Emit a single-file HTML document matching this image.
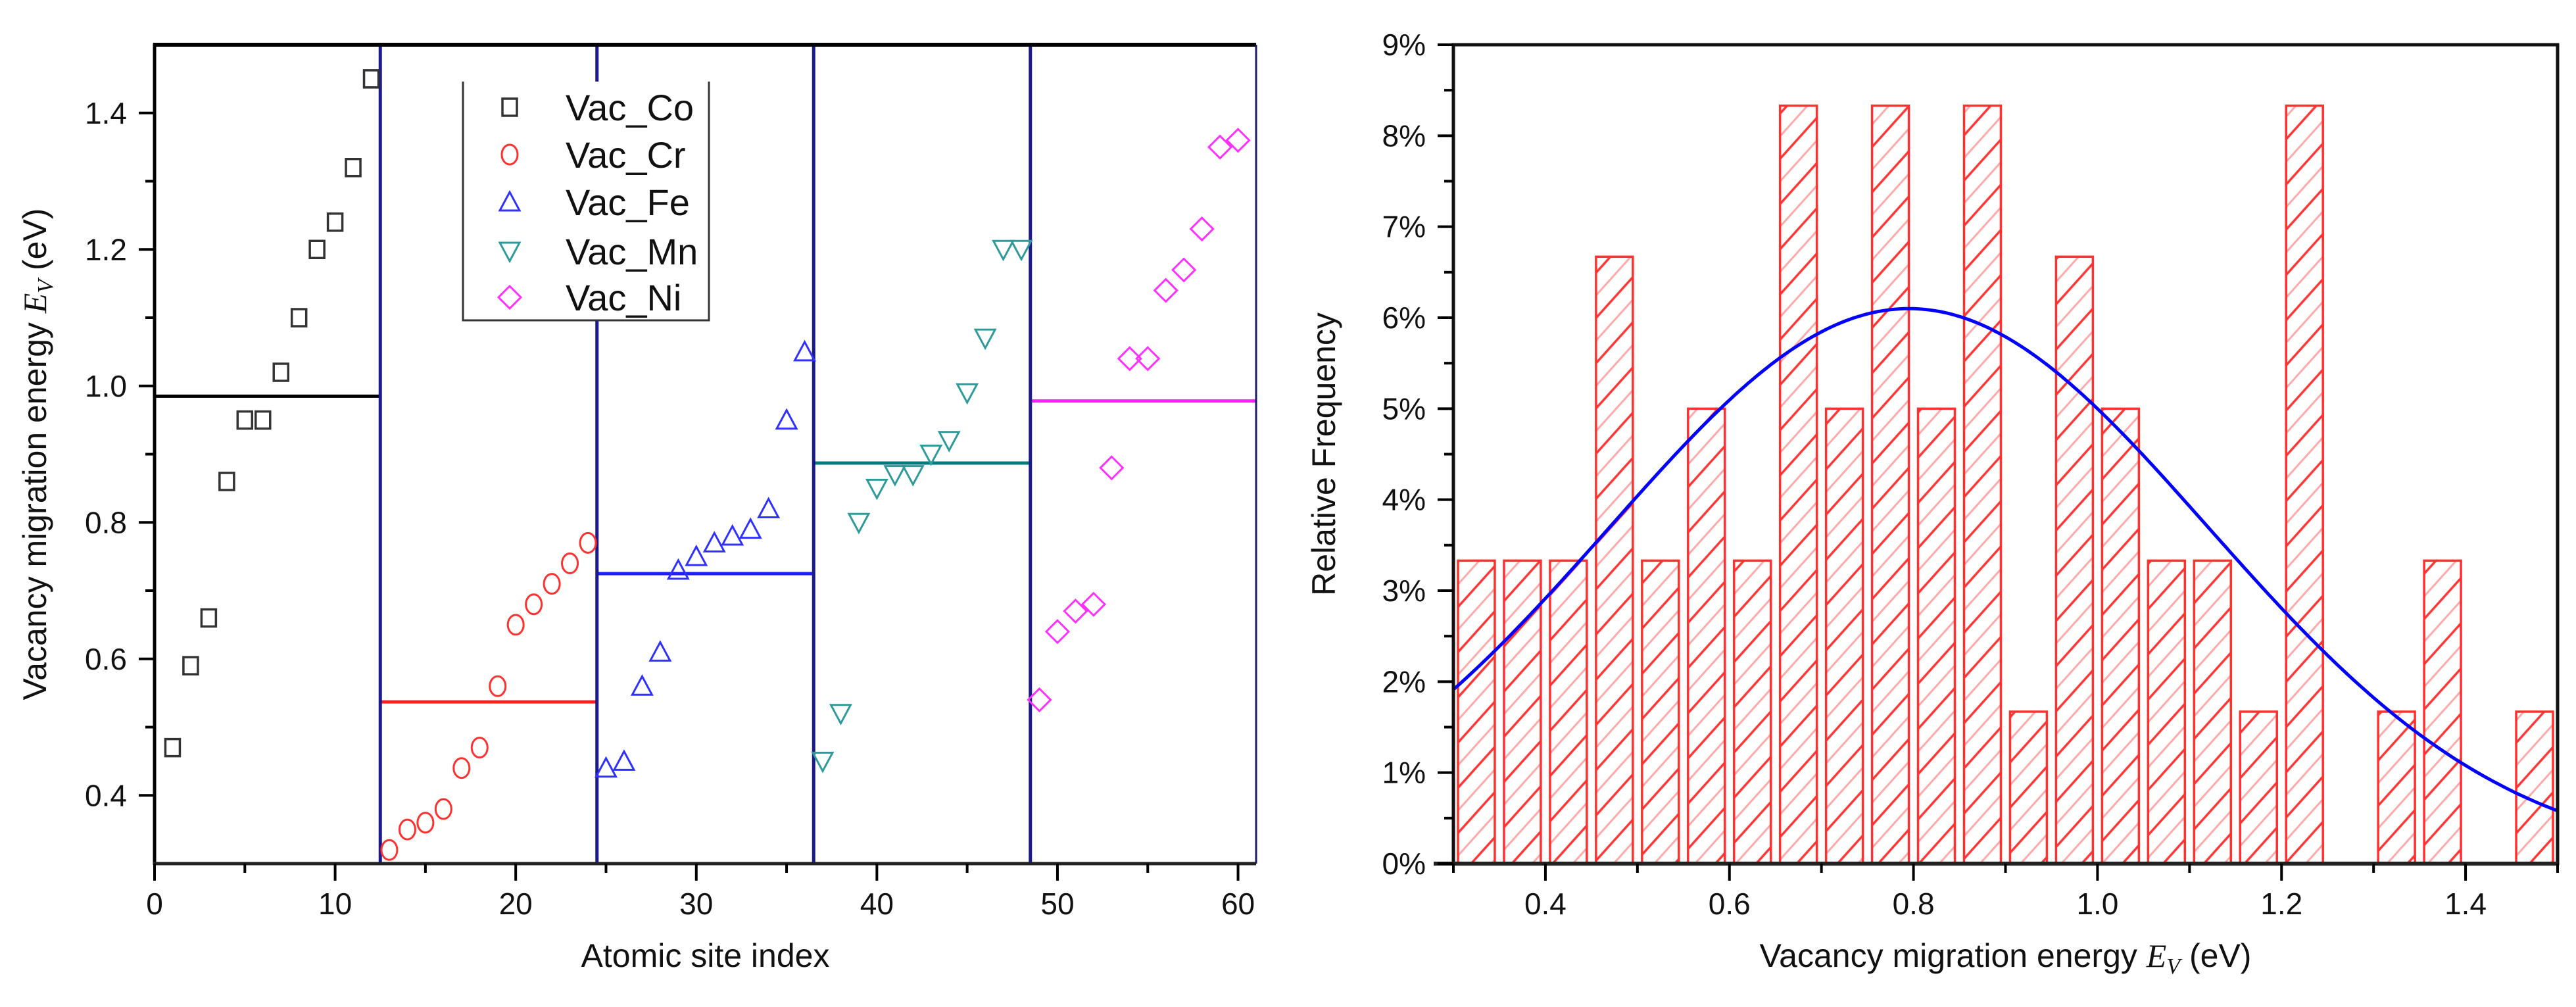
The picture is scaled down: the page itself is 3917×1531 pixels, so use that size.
<!DOCTYPE html>
<html><head><meta charset="utf-8"><style>
html,body{margin:0;padding:0;background:#fff;}
svg{display:block;font-family:"Liberation Sans",Arial,sans-serif;}
</style></head><body>
<svg id="fig" width="3917" height="1531" viewBox="0 0 3917 1531" xmlns="http://www.w3.org/2000/svg">
<defs>
<pattern id="hatch" patternUnits="userSpaceOnUse" width="20" height="46" patternTransform="rotate(-48)">
<line x1="0" y1="11" x2="20" y2="11" stroke="#ff3535" stroke-width="3.5"/>
<line x1="0" y1="34" x2="20" y2="34" stroke="#ffaaaa" stroke-width="3"/>
</pattern>
</defs>
<g id="left"></g>
<g id="right"></g>
</svg>
<script>
// ---------- Left chart data ----------
const coVals = [0.47,0.59,0.66,0.86,0.95,0.95,1.02,1.10,1.20,1.24,1.32,1.45];
const crVals = [0.32,0.35,0.36,0.38,0.44,0.47,0.56,0.65,0.68,0.71,0.74,0.77];
const feVals = [0.44,0.45,0.56,0.61,0.73,0.75,0.77,0.78,0.79,0.82,0.95,1.05];
const mnVals = [0.45,0.52,0.80,0.85,0.87,0.87,0.90,0.92,0.99,1.07,1.20,1.20];
const niVals = [0.54,0.64,0.67,0.68,0.88,1.04,1.04,1.14,1.17,1.23,1.35,1.36];
const seriesNames = ["Vac_Co","Vac_Cr","Vac_Fe","Vac_Mn","Vac_Ni"];
const seriesStart = [1,13,25,37,49];
const meanVals = [0.985,0.537,0.725,0.887,0.978];
const groupBounds = [0,12.5,24.5,36.5,48.5,61];
const leftXTicks = [0,10,20,30,40,50,60];
const leftYTicks = [0.4,0.6,0.8,1.0,1.2,1.4];
const leftYLabels = ["0.4","0.6","0.8","1.0","1.2","1.4"];
// ---------- Right chart data ----------
const binCenters = [0.325,0.375,0.425,0.475,0.525,0.575,0.625,0.675,0.725,0.775,0.825,0.875,0.925,0.975,1.025,1.075,1.125,1.175,1.225,1.275,1.325,1.375,1.425,1.475];
const binFreq = [3.33,3.33,3.33,6.67,3.33,5,3.33,8.33,5,8.33,5,8.33,1.67,6.67,5,3.33,3.33,1.67,8.33,0,1.67,3.33,0,1.67];
const fitParams = [6.1,0.795,0.325]; // amplitude(%), mean, sigma
const rightXTicks = [0.4,0.6,0.8,1.0,1.2,1.4];
const rightXLabels = ["0.4","0.6","0.8","1.0","1.2","1.4"];
const rightYTicks = [0,1,2,3,4,5,6,7,8,9];

const NS="http://www.w3.org/2000/svg";
function mk(parent,tag,attrs,text){const e=document.createElementNS(NS,tag);for(const k in attrs)e.setAttribute(k,attrs[k]);if(text!==undefined)e.textContent=text;parent.appendChild(e);return e;}

// ---------- Left chart ----------
const L=document.getElementById('left');
const LX0=235,LX1=1910,LY0=1313,LY1=68;
const lx=v=>LX0+(v-0)/(61-0)*(LX1-LX0);
const ly=v=>LY0-(v-0.3)/(1.5-0.3)*(LY0-LY1);
const colors=["#333333","#ff3030","#3030ff","#2f9a9a","#ff30ff"];
const meanColors=["#000000","#ff2020","#2020ff","#007a7a","#ff20ff"];

function marker(g,kind,cx,cy,col){
  let e;
  const s=13;
  if(kind===0){e=mk(g,'rect',{x:cx-s+2,y:cy-s,width:2*s-4,height:2*s,fill:'none',stroke:col,'stroke-width':3.5});}
  else if(kind===1){e=mk(g,'ellipse',{cx:cx,cy:cy,rx:s-1,ry:s+2,fill:'none',stroke:col,'stroke-width':3});}
  else if(kind===2){e=mk(g,'polygon',{points:`${cx},${cy-s-2} ${cx+s+2},${cy+s} ${cx-s-2},${cy+s}`,fill:'none',stroke:col,'stroke-width':3});}
  else if(kind===3){e=mk(g,'polygon',{points:`${cx-s-2},${cy-s} ${cx+s+2},${cy-s} ${cx},${cy+s+2}`,fill:'none',stroke:col,'stroke-width':3});}
  else {e=mk(g,'polygon',{points:`${cx},${cy-s-4} ${cx+s+4},${cy} ${cx},${cy+s+4} ${cx-s-4},${cy}`,fill:'none',stroke:col,'stroke-width':3});}
  return e;
}

meanVals.forEach((m,i)=>{
  const e=mk(L,'line',{x1:lx(groupBounds[i]),x2:lx(groupBounds[i+1]),y1:ly(m),y2:ly(m),stroke:meanColors[i],'stroke-width':5});
  
  
});
groupBounds.slice(1,5).forEach((b,i)=>{
  const e=mk(L,'line',{x1:lx(b),x2:lx(b),y1:LY1,y2:LY0,stroke:'#1a1a8a','stroke-width':5});
  
  
});
[coVals,crVals,feVals,mnVals,niVals].forEach((arr,si)=>{
  const g=mk(L,'g',{});
  
  
  arr.forEach((v,j)=>{
    const e=marker(g,si,lx(seriesStart[si]+j),ly(v),colors[si]);
    
    
  });
});
let ax=mk(L,'line',{x1:LX0,x2:LX0,y1:LY1-2,y2:LY0+2,stroke:'#000','stroke-width':5});

ax=mk(L,'line',{x1:LX0-2,x2:LX1,y1:LY0,y2:LY0,stroke:'#222','stroke-width':5});

ax=mk(L,'line',{x1:LX0-2,x2:LX1,y1:LY1,y2:LY1,stroke:'#000','stroke-width':6});

ax=mk(L,'line',{x1:LX1,x2:LX1,y1:LY1,y2:LY0,stroke:'#1a1a6a','stroke-width':3});

leftXTicks.forEach(t=>{
  mk(L,'line',{x1:lx(t),x2:lx(t),y1:LY0,y2:LY0+26,stroke:'#000','stroke-width':4});
  const e=mk(L,'text',{x:lx(t),y:LY0+77,'font-size':46,'text-anchor':'middle',fill:'#111'},String(t));
  
  if(t+5<61) mk(L,'line',{x1:lx(t+5),x2:lx(t+5),y1:LY0,y2:LY0+14,stroke:'#000','stroke-width':4});
});
leftYTicks.forEach((t,i)=>{
  mk(L,'line',{x1:LX0-24,x2:LX0,y1:ly(t),y2:ly(t),stroke:'#000','stroke-width':4});
  const e=mk(L,'text',{x:193,y:ly(t)+16,'font-size':46,'text-anchor':'end',fill:'#111'},leftYLabels[i]);
  
  if(t+0.1<1.5) mk(L,'line',{x1:LX0-14,x2:LX0,y1:ly(t+0.1),y2:ly(t+0.1),stroke:'#000','stroke-width':4});
});
let tt=mk(L,'text',{x:(LX0+LX1)/2,y:1470,'font-size':50,'text-anchor':'middle',fill:'#111'},'Atomic site index');

tt=mk(L,'text',{x:0,y:0,'font-size':50,'text-anchor':'middle',fill:'#111',transform:`translate(70,${(LY0+LY1)/2}) rotate(-90)`});
tt.innerHTML='Vacancy migration energy <tspan font-family="Liberation Serif" font-style="italic">E</tspan><tspan font-family="Liberation Serif" font-style="italic" font-size="34" dy="10">V</tspan><tspan dy="-10"> (eV)</tspan>';

const lg=mk(L,'g',{});

mk(lg,'rect',{x:704,y:124,width:374,height:363,fill:'#fff',stroke:'none'});
mk(lg,'polyline',{points:'704,124 704,487 1078,487 1078,124',fill:'none',stroke:'#333','stroke-width':3});
const legY=[163,235,307,382,452];
seriesNames.forEach((n,i)=>{
  const eg=mk(lg,'g',{});
  
  marker(eg,i,775,legY[i],colors[i]);
  mk(eg,'text',{x:860,y:legY[i]+20,'font-size':56,fill:'#111'},n);
});

// ---------- Right chart ----------
const R=document.getElementById('right');
const RX0=2210,RX1=3889,RY0=1313,RY1=68;
const rx=v=>RX0+(v-0.3)/(1.5-0.3)*(RX1-RX0);
const ry=v=>RY0-(v-0)/(9-0)*(RY0-RY1);
const barW=0.04;
binCenters.forEach((c,i)=>{
  if(binFreq[i]<=0) return;
  const e=mk(R,'rect',{x:rx(c-barW/2),y:ry(binFreq[i]),width:rx(c+barW/2)-rx(c-barW/2),height:RY0-ry(binFreq[i]),fill:'url(#hatch)',stroke:'#ff3030','stroke-width':3.5});
  
});
let pts=[];
for(let x=0.3;x<=1.5001;x+=0.005){
  const y=fitParams[0]*Math.exp(-Math.pow(x-fitParams[1],2)/(2*fitParams[2]*fitParams[2]));
  pts.push(rx(x).toFixed(1)+','+ry(y).toFixed(1));
}
const fc=mk(R,'polyline',{points:pts.join(' '),fill:'none',stroke:'#0000ff','stroke-width':5});

ax=mk(R,'rect',{x:RX0,y:RY1,width:RX1-RX0,height:RY0-RY1,fill:'none',stroke:'#111','stroke-width':5});

ax=mk(R,'line',{x1:RX0-30,x2:RX1,y1:RY0,y2:RY0,stroke:'#222','stroke-width':6});

rightXTicks.forEach((t,i)=>{
  mk(R,'line',{x1:rx(t),x2:rx(t),y1:RY0,y2:RY0+26,stroke:'#000','stroke-width':4});
  mk(R,'line',{x1:rx(t+0.1),x2:rx(t+0.1),y1:RY0,y2:RY0+14,stroke:'#000','stroke-width':4});
  const e=mk(R,'text',{x:rx(t),y:RY0+77,'font-size':46,'text-anchor':'middle',fill:'#111'},rightXLabels[i]);
  
});
mk(R,'line',{x1:rx(0.3),x2:rx(0.3),y1:RY0,y2:RY0+14,stroke:'#000','stroke-width':4});
rightYTicks.forEach(t=>{
  mk(R,'line',{x1:RX0-24,x2:RX0,y1:ry(t),y2:ry(t),stroke:'#000','stroke-width':4});
  if(t<9) mk(R,'line',{x1:RX0-14,x2:RX0,y1:ry(t+0.5),y2:ry(t+0.5),stroke:'#000','stroke-width':4});
  const e=mk(R,'text',{x:2168,y:ry(t)+16,'font-size':46,'text-anchor':'end',fill:'#111'},t+'%');
  
});
tt=mk(R,'text',{x:(RX0+RX1)/2,y:1470,'font-size':50,'text-anchor':'middle',fill:'#111'});
tt.innerHTML='Vacancy migration energy <tspan font-family="Liberation Serif" font-style="italic">E</tspan><tspan font-family="Liberation Serif" font-style="italic" font-size="34" dy="10">V</tspan><tspan dy="-10"> (eV)</tspan>';

tt=mk(R,'text',{x:0,y:0,'font-size':50,'text-anchor':'middle',fill:'#111',transform:`translate(2030,${(RY0+RY1)/2}) rotate(-90)`},'Relative Frequency');

</script>
</body></html>
